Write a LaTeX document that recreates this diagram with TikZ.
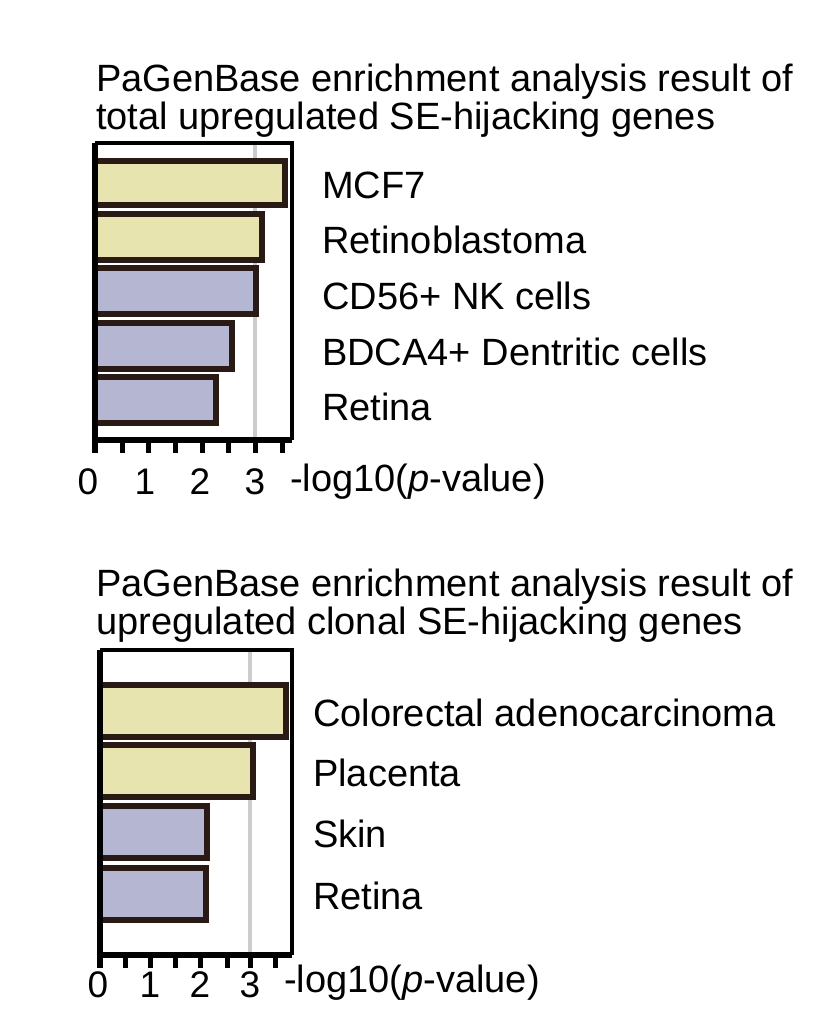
\documentclass[tikz,border=0pt]{standalone}
\usepackage{fontspec}
\setmainfont{Liberation Sans}
\definecolor{hitbar}{HTML}{E8E4B0}
\definecolor{lowbar}{HTML}{B4B6D2}
\definecolor{barline}{HTML}{2A1A15}
\tikzset{
  lbl/.style={anchor=west,inner sep=0pt,font=\fontsize{38}{42}\selectfont},
  ttl/.style={anchor=base west,inner sep=0pt,font=\fontsize{38}{42}\selectfont},
  ticklbl/.style={inner sep=0pt,font=\fontsize{37}{42}\selectfont},
  bar/.style={draw=barline,line width=6pt},
  cutoff/.style={draw=black!20,line width=4pt},
  frame/.style={draw,line width=3.5pt},
  axis/.style={draw,line width=6pt}
}
\begin{document}
\begin{tikzpicture}[x=1pt,y=-1pt]
\useasboundingbox (0,0) rectangle (815,1023);
% top chart
\node[ttl] (t1) at (96,91) {PaGenBase enrichment analysis result of};
\node[ttl] (t2) at (96,129) {total upregulated SE-hijacking genes};
\draw[cutoff] (255,143) -- (255,440);
\draw[frame] (95,143) -- (292,143) -- (292,440);
\foreach \ya/\yb/\xr/\c in {161/205/285/hitbar,214/260/262/hitbar,268/314/256/lowbar,323/369/232/lowbar,377/423/216/lowbar}
  \draw[bar,fill=\c] (95,\ya) rectangle (\xr,\yb);
\draw[axis] (95,143) -- (95,440) -- (292,440);
\foreach \x in {122,148,175,202,228,255,282}
  \draw[line width=5pt] (\x,440) -- (\x,453);
\draw[line width=6pt] (95,440) -- (95,453);
\foreach \x/\v in {88/0,145/1,200/2,255/3}
  \node[ticklbl] (ta\v) at (\x,482) {\v};
\node[lbl] (tx) at (290,482) {-log10(\textit{p}-value)};
\foreach \y/\s [count=\i] in {185/MCF7,240/Retinoblastoma,296/CD56+ NK cells,352/BDCA4+ Dentritic cells,407/Retina}
  \node[lbl] (tl\i) at (322,\y) {\s};
% bottom chart
\node[ttl] (b1) at (96,596) {PaGenBase enrichment analysis result of};
\node[ttl] (b2) at (96,634) {upregulated clonal SE-hijacking genes};
\draw[cutoff] (250,650) -- (250,955);
\draw[frame] (100,650) -- (292,650) -- (292,955);
\foreach \ya/\yb/\xr/\c in {685/737/286/hitbar,745/797/253/hitbar,806/858/207/lowbar,868/920/206/lowbar}
  \draw[bar,fill=\c] (100,\ya) rectangle (\xr,\yb);
\draw[axis] (100,650) -- (100,955) -- (292,955);
\foreach \x in {125,150,175,200,227,250,275}
  \draw[line width=5pt] (\x,955) -- (\x,968);
\draw[line width=6pt] (100,955) -- (100,968);
\foreach \x/\v in {98/0,150/1,200/2,250/3}
  \node[ticklbl] (ba\v) at (\x,985) {\v};
\node[lbl] (bx) at (284,983) {-log10(\textit{p}-value)};
\foreach \y/\s [count=\i] in {713/Colorectal adenocarcinoma,773/Placenta,834/Skin,896/Retina}
  \node[lbl] (bl\i) at (313,\y) {\s};
\end{tikzpicture}
\end{document}
